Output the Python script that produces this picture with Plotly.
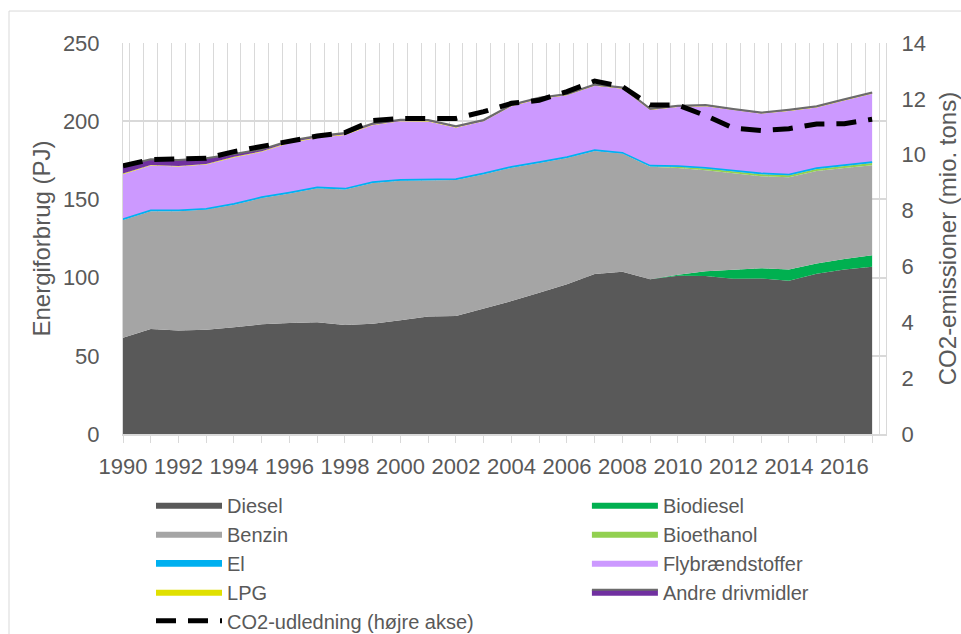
import plotly.graph_objects as go

# Energiforbrug til transport (PJ) og CO2-udledning (mio. tons)
years = list(range(1990, 2018))

diesel = [61.6, 67.1, 66.1, 66.7, 68.2, 70.1, 71.0, 71.4, 69.7, 70.5,
          72.7, 75.2, 75.4, 80.0, 85.0, 90.3, 95.7, 102.3, 103.8, 98.9,
          101.2, 101.0, 99.3, 99.4, 98.0, 102.5, 105.2, 107.0]
biodiesel = [0, 0, 0, 0, 0, 0, 0, 0, 0, 0,
             0, 0, 0, 0, 0, 0, 0, 0, 0, 0.1,
             0.6, 3.0, 5.9, 6.6, 7.1, 6.5, 6.7, 7.3]
benzin = [75.3, 75.3, 76.3, 76.8, 78.4, 80.8, 82.8, 85.7, 86.6, 90.0,
          89.3, 86.8, 87.0, 86.1, 85.3, 83.0, 80.8, 78.7, 75.5, 71.8,
          68.2, 64.7, 61.4, 58.8, 59.0, 59.2, 58.2, 57.6]
bioethanol = [0, 0, 0, 0, 0, 0, 0, 0, 0, 0,
              0, 0, 0, 0, 0, 0, 0, 0, 0, 0.2,
              0.8, 1.0, 1.2, 1.3, 1.3, 1.3, 1.3, 1.3]
el = [0.6, 0.6, 0.6, 0.6, 0.6, 0.6, 0.6, 0.6, 0.6, 0.6,
      0.6, 0.6, 0.6, 0.6, 0.6, 0.6, 0.6, 0.6, 0.6, 0.6,
      0.6, 0.6, 0.6, 0.6, 0.6, 0.6, 0.6, 0.7]
fly = [28.6, 28.6, 28.0, 28.2, 29.6, 28.9, 31.7, 31.5, 34.3, 36.3,
       37.3, 37.2, 32.8, 33.2, 38.7, 40.3, 39.5, 41.1, 40.8, 35.6,
       37.7, 39.3, 38.7, 38.1, 40.6, 38.7, 41.3, 43.7]
lpg = [0.4, 0.4, 0.4, 0.4, 0.4, 0.4, 0.4, 0.4, 0.4, 0.4,
       0.3, 0.3, 0.3, 0.3, 0.3, 0.3, 0.3, 0.3, 0.3, 0.3,
       0.2, 0.2, 0.2, 0.2, 0.2, 0.2, 0.2, 0.2]
andre = [5.0, 3.6, 3.8, 3.6, 1.8, 1.2, 1.0, 0.9, 0.9, 0.8,
         0.8, 0.7, 0.7, 0.6, 0.6, 0.5, 0.5, 0.5, 0.5, 0.5,
         0.5, 0.5, 0.5, 0.5, 0.5, 0.5, 0.5, 0.5]
co2 = [9.60, 9.83, 9.85, 9.87, 10.11, 10.31, 10.50, 10.67, 10.79, 11.22,
       11.30, 11.30, 11.30, 11.54, 11.84, 11.95, 12.26, 12.64, 12.44, 11.78,
       11.78, 11.40, 10.95, 10.87, 10.93, 11.10, 11.11, 11.27]

TXT = '#595959'
GRID = '#d9d9d9'
FONT = 'Liberation Sans, Arial, sans-serif'

# stacking order = Excel series order; legend = column the entry sits in
series = [
    ('Diesel', diesel, '#595959', 'legend'),
    ('Biodiesel', biodiesel, '#00b050', 'legend2'),
    ('Benzin', benzin, '#a5a5a5', 'legend'),
    ('Bioethanol', bioethanol, '#92d050', 'legend2'),
    ('El', el, '#00b0f0', 'legend'),
    ('Flybrændstoffer', fly, '#cc99ff', 'legend2'),
    ('LPG', lpg, '#e0e000', 'legend'),
    ('Andre drivmidler', andre, '#7030a0', 'legend2'),
]

fig = go.Figure()

for name, vals, color, leg in series:
    if name == 'Andre drivmidler':
        line = dict(color='#6b6b6b', width=2)
    elif name == 'El':
        line = dict(color=color, width=1.5)
    else:
        line = dict(color=color, width=0)
    fig.add_trace(go.Scatter(
        x=years, y=vals, name=name,
        mode='lines', stackgroup='energi',
        fillcolor=color, line=line,
        legend=leg,
    ))

fig.add_trace(go.Scatter(
    x=years, y=co2, name='CO2-udledning (højre akse)',
    mode='lines', xaxis='x2', yaxis='y2',
    line=dict(color='black', width=5, dash='20px,12px'),
    legend='legend',
))

legend_style = dict(
    orientation='v', yanchor='top', xanchor='left', traceorder='normal',
    font=dict(family=FONT, size=20, color=TXT),
    bgcolor='rgba(0,0,0,0)', itemwidth=66,
)

fig.update_layout(
    width=961, height=634,
    margin=dict(l=123, r=75, t=43, b=200, autoexpand=False),
    paper_bgcolor='white', plot_bgcolor='white',
    font=dict(family=FONT, size=22, color=TXT),
    showlegend=True,
    xaxis=dict(
        range=[1990, 2017.5], tick0=1990, dtick=2,
        ticks='outside', ticklen=7, tickcolor=GRID,
        minor=dict(tick0=1990, dtick=1, ticks='outside', ticklen=7, tickcolor=GRID),
        showgrid=False, zeroline=False,
        showline=True, linecolor=GRID, linewidth=1.5,
        tickfont=dict(size=22, color=TXT), ticklabelstandoff=5,
    ),
    xaxis2=dict(
        overlaying='x', range=[1990, 2017.5], tick0=1990.25, dtick=0.5,
        showgrid=True, gridcolor=GRID, gridwidth=1,
        showticklabels=False, ticks='', zeroline=False, showline=False,
    ),
    yaxis=dict(
        range=[0, 250], dtick=50,
        showgrid=True, gridcolor=GRID, gridwidth=1.5, zeroline=False,
        showline=True, linecolor=GRID, ticks='',
        tickfont=dict(size=22, color=TXT), ticklabelstandoff=18,
        title=dict(text='Energiforbrug (PJ)', font=dict(size=24, color=TXT), standoff=5),
    ),
    yaxis2=dict(
        overlaying='y', side='right', range=[0, 14], dtick=2,
        showgrid=False, zeroline=False,
        showline=True, linecolor=GRID, ticks='',
        tickfont=dict(size=22, color=TXT), ticklabelstandoff=10,
        title=dict(text='CO2-emissioner (mio. tons)', font=dict(size=24, color=TXT), standoff=14),
    ),
    legend=dict(legend_style, x=0.0367, y=-0.131),
    legend2=dict(legend_style, x=0.608, y=-0.131),
    shapes=[dict(
        type='rect', xref='paper', yref='paper',
        x0=-0.1494, x1=1.12, y0=-0.56, y1=1.0818,
        line=dict(color=GRID, width=1), layer='below',
    )],
)

fig.write_html("out.html", config={'displayModeBar': False},
               post_script="document.body.style.margin='0';")
